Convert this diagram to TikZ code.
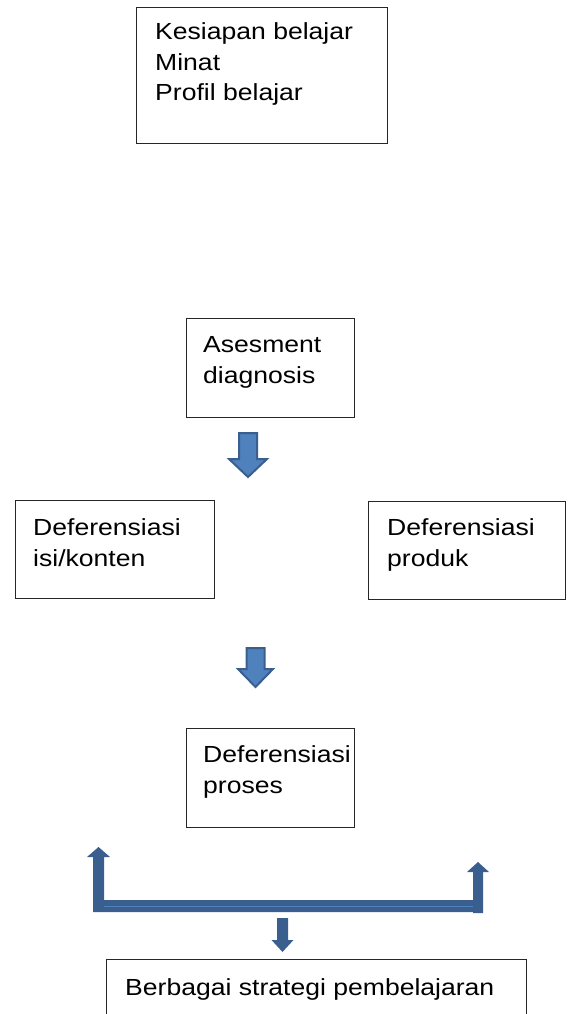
\documentclass[tikz,border=0pt]{standalone}
\usepackage{fontspec}
\setmainfont{Liberation Sans}[FakeStretch=1.14]
\definecolor{arrowdark}{HTML}{3A5F8E}
\definecolor{arrowlight}{HTML}{4F81BD}
\begin{document}
\begin{tikzpicture}[x=1pt,y=-1pt,
  box/.style={draw=black!85,line width=1.2pt,inner sep=0pt},
  lbl/.style={anchor=base west,inner sep=0pt,align=left,
    font=\fontsize{23.3pt}{30.5pt}\selectfont},
  blockarrow/.style={fill=arrowlight,draw=arrowdark,line width=2pt,line join=miter},
  bracketshape/.style={fill=arrowdark,draw=none}]
\useasboundingbox (0,0) rectangle (568,1014);
% boxes
\node[box,minimum width=251pt,minimum height=136pt,anchor=north west] (b1) at (136,7) {};
\node[lbl] (t1) at (155,101) {Kesiapan belajar\\Minat\\Profil belajar};
\node[box,minimum width=168pt,minimum height=99pt,anchor=north west] (b2) at (186,318) {};
\node[lbl] (t2) at (203,383) {Asesment\\diagnosis};
\node[box,minimum width=199pt,minimum height=98pt,anchor=north west] (b3) at (15,500) {};
\node[lbl] (t3) at (33,566) {Deferensiasi\\isi/konten};
\node[box,minimum width=197pt,minimum height=98pt,anchor=north west] (b4) at (368,501) {};
\node[lbl] (t4) at (387,566) {Deferensiasi\\produk};
\node[box,minimum width=168pt,minimum height=99pt,anchor=north west] (b5) at (186,728) {};
\node[lbl] (t5) at (203,793) {Deferensiasi\\proses};
\node[box,minimum width=420pt,minimum height=70pt,anchor=north west] (b6) at (106,959) {};
\node[lbl] (t6) at (125,995) {Berbagai strategi pembelajaran};
% block arrows
\draw[blockarrow] (239,433) -- (257,433) -- (257,459) -- (267,459) -- (248,477)
  -- (229,459) -- (239,459) -- cycle;
\draw[blockarrow] (246.5,648) -- (264.5,648) -- (264.5,669) -- (273,669) -- (255.5,687)
  -- (238,669) -- (246.5,669) -- cycle;
% bracket
\fill[bracketshape] (93,912) -- (93,857) -- (87,857) -- (98.5,847) -- (110,857)
  -- (104,857) -- (104,900) -- (473,900) -- (473,872) -- (467,872) -- (478,862)
  -- (489,872) -- (483,872) -- (483,913) -- (473,913) -- (473,912) -- cycle;
\draw[arrowlight,line width=0.8pt] (104,906) -- (473,906);
% small arrow
\fill[bracketshape] (277,918) -- (288,918) -- (288,940) -- (293.5,940) -- (282.5,952)
  -- (271.5,940) -- (277,940) -- cycle;
\end{tikzpicture}
\end{document}
